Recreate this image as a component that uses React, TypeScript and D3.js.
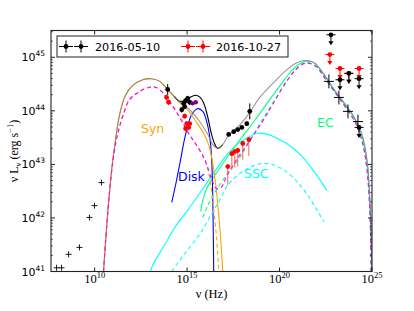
import React, { useEffect, useRef } from "react";
import * as d3 from "d3";

// every value is [log10(nu / Hz), log10(nu L_nu / erg s^-1)]

// model curves
const totalA = [
  [10.48, 41.0], [10.7, 42.06], [10.92, 42.9], [11.13, 43.46], [11.35, 43.93], [11.67, 44.29],
  [12.05, 44.47], [12.6, 44.58], [13.08, 44.6], [13.52, 44.55], [13.95, 44.4], [14.6, 44.17],
  [15.14, 44.02], [15.68, 43.8], [16.12, 43.56], [16.39, 43.37], [16.66, 43.3], [16.93, 43.37],
  [17.2, 43.52], [17.58, 43.65], [17.96, 43.78], [18.39, 43.97], [18.93, 44.25], [19.69, 44.53],
  [20.4, 44.77], [20.94, 44.9], [21.37, 44.94], [21.86, 44.9], [22.4, 44.68], [22.94, 44.4],
  [23.48, 44.16], [24.02, 43.89], [24.46, 43.56], [24.73, 43.09], [24.89, 42.34], [25.0, 41.0],
];
const totalADisk = [
  [14.3, 44.27], [14.6, 44.18], [14.87, 44.19], [15.14, 44.25], [15.46, 44.29], [15.68, 44.26],
  [15.9, 44.14], [16.12, 43.88], [16.33, 43.55], [16.52, 43.36], [16.66, 43.3], [16.93, 43.37],
];
const synA = [
  [10.48, 41.0], [10.7, 42.06], [10.92, 42.9], [11.13, 43.46], [11.35, 43.93], [11.67, 44.29],
  [12.05, 44.47], [12.6, 44.58], [13.08, 44.6], [13.52, 44.55], [13.95, 44.4], [14.6, 44.15],
  [15.14, 43.97], [15.52, 43.78], [15.85, 43.61], [16.12, 43.41], [16.33, 43.13], [16.55, 42.62],
  [16.71, 42.06], [16.82, 41.6], [16.93, 41.0],
];
const totalB = [
  [10.48, 41.0], [10.7, 42.06], [10.92, 42.87], [11.08, 43.28], [11.24, 43.56], [11.51, 43.89],
  [11.89, 44.21], [12.43, 44.36], [12.97, 44.44], [13.3, 44.44], [13.68, 44.34], [14.06, 44.17],
  [14.6, 43.88], [15.03, 43.61], [15.41, 43.41], [15.79, 43.2], [16.06, 43.0], [16.33, 42.72],
  [16.6, 42.55], [16.85, 42.57], [17.1, 42.75], [17.6, 43.05], [18.1, 43.3], [18.6, 43.55],
  [19.2, 43.87], [19.75, 44.19], [20.4, 44.56], [20.94, 44.79], [21.42, 44.89], [21.97, 44.83],
  [22.51, 44.58], [23.05, 44.32], [23.59, 44.06], [24.13, 43.76], [24.51, 43.37], [24.73, 42.9],
  [24.89, 42.06], [24.95, 41.0],
];
const synB = [
  [10.48, 41.0], [10.7, 42.06], [10.92, 42.87], [11.08, 43.28], [11.24, 43.56], [11.51, 43.89],
  [11.89, 44.21], [12.43, 44.36], [12.97, 44.44], [13.3, 44.44], [13.68, 44.34], [14.06, 44.17],
  [14.6, 43.88], [15.03, 43.61], [15.41, 43.41], [15.79, 43.2], [16.06, 42.98], [16.28, 42.62],
  [16.44, 42.15], [16.6, 41.6], [16.71, 41.0],
];
const disk = [
  [14.17, 42.29], [14.38, 42.62], [14.6, 43.0], [14.92, 43.56], [15.25, 43.93], [15.57, 44.04],
  [15.85, 43.99], [16.06, 43.8], [16.23, 43.5], [16.33, 43.09], [16.39, 42.34], [16.44, 41.0],
];
const sscA = [
  [13.0, 40.97], [13.08, 41.07], [13.79, 41.5], [14.33, 41.82], [15.03, 42.14], [15.68, 42.46],
  [16.39, 42.81], [17.04, 43.13], [17.69, 43.37], [18.28, 43.5], [18.82, 43.58], [19.37, 43.56],
  [20.02, 43.46], [20.67, 43.32], [21.26, 43.13], [21.86, 42.87], [22.29, 42.66], [22.56, 42.51],
];
const sscB = [
  [14.17, 41.0], [14.71, 41.26], [15.25, 41.5], [15.79, 41.75], [16.33, 42.08], [16.77, 42.34],
  [17.2, 42.61], [17.85, 42.83], [18.5, 42.96], [19.15, 43.02], [19.75, 42.98], [20.34, 42.87],
  [20.94, 42.68], [21.53, 42.42], [22.07, 42.12], [22.4, 41.93],
];
const ecA = [
  [15.74, 42.12], [15.85, 42.33], [16.06, 42.55], [16.39, 42.74], [16.87, 42.98], [17.58, 43.33],
  [18.66, 43.82], [19.75, 44.34], [20.83, 44.81], [21.37, 44.92], [21.86, 44.9], [22.4, 44.68],
  [22.94, 44.4], [23.48, 44.14], [24.02, 43.88], [24.46, 43.52], [24.73, 43.04], [24.89, 42.25],
  [25.0, 41.0],
];
const ecB = [
  [15.85, 42.01], [16.06, 42.19], [16.44, 42.44], [17.04, 42.76], [17.85, 43.13], [18.82, 43.69],
  [19.75, 44.21], [20.56, 44.64], [21.1, 44.85], [21.42, 44.9], [21.97, 44.83], [22.51, 44.58],
  [23.05, 44.32], [23.59, 44.06], [24.13, 43.76], [24.51, 43.37], [24.73, 42.9], [24.89, 42.06],
  [24.95, 41.0],
];

// data: [log nu, log L, x error (dex), y error down, y error up]
const radio = [
  [7.94, 41.07], [8.21, 41.07], [8.59, 41.32], [9.18, 41.45], [9.72, 42.01], [9.99, 42.23], [10.37, 42.66],
];
const obsA = [
  [13.95, 44.4, 0.12, 0.1, 0.1],
  [14.71, 44.02, 0.08, 0.05, 0.05], [14.82, 44.14, 0.08, 0.05, 0.05], [14.87, 44.08, 0.08, 0.05, 0.05],
  [14.92, 44.19, 0.08, 0.05, 0.05], [15.03, 44.23, 0.08, 0.05, 0.05], [15.14, 44.16, 0.08, 0.05, 0.05],
  [17.25, 43.56, 0.08, 0.03, 0.03], [17.52, 43.61, 0.08, 0.03, 0.03], [17.74, 43.65, 0.08, 0.03, 0.03],
  [17.96, 43.69, 0.08, 0.03, 0.03], [18.23, 43.76, 0.08, 0.04, 0.04], [18.39, 43.99, 0.04, 0.15, 0.15],
];
const uvArchive = [
  [15.3, 44.14], [15.47, 44.16],
];
const fermiA = [
  [22.67, 44.55, 0.27, 0.13, 0.13], [23.21, 44.25, 0.27, 0.13, 0.13],
  [23.7, 43.99, 0.27, 0.13, 0.13], [24.24, 43.8, 0.27, 0.13, 0.13],
];
const limitsA = [
  [22.78, 45.42], [23.27, 44.58], [23.75, 44.7], [24.3, 44.6], [24.3, 43.69],
];
const obsB = [
  [13.89, 44.25, 0.05, 0.06, 0.06], [14.0, 44.16, 0.05, 0.06, 0.06],
  [14.87, 43.9, 0.05, 0.05, 0.05], [14.98, 43.76, 0.05, 0.05, 0.05], [15.09, 43.69, 0.05, 0.05, 0.05],
  [14.92, 43.67, 0.05, 0.05, 0.05], [15.14, 43.76, 0.05, 0.05, 0.05],
  [17.2, 42.96, 0.06, 0.35, 0.05], [17.42, 43.2, 0.06, 0.3, 0.05], [17.58, 43.24, 0.06, 0.3, 0.05],
  [17.74, 43.26, 0.06, 0.3, 0.05], [18.01, 43.39, 0.06, 0.3, 0.05], [18.34, 43.46, 0.06, 0.3, 0.05],
];
const limitsB = [
  [22.72, 45.05], [23.27, 44.79], [23.75, 44.7], [24.3, 44.79],
];

const xTicks = [10, 15, 20, 25];
const yTicks = [41, 42, 43, 44, 45];
const legendLabels = ["2016-05-10", "2016-10-27"];

export default function App() {
  const ref = useRef<SVGSVGElement>(null);

  useEffect(() => {
    document.body.style.margin = "0";
    const svg = d3.select(ref.current);
    svg.selectAll("*").remove();

    const left = 51, right = 372, top = 30.5, bottom = 271.5;
    const x = d3.scaleLog().domain([10 ** 7.64, 1e25]).range([left, right]);
    const y = d3.scaleLog().domain([1e41, 10 ** 45.5]).range([bottom, top]);
    const px = (v: number) => x(10 ** v);
    const py = (v: number) => y(10 ** v);

    svg.append("defs").append("clipPath").attr("id", "plotclip")
      .append("rect").attr("x", left).attr("y", top).attr("width", right - left).attr("height", bottom - top);

    const plot = svg.append("g").attr("clip-path", "url(#plotclip)");
    const line = d3.line<number[]>()
      .x((d) => px(d[0]))
      .y((d) => py(d[1]))
      .curve(d3.curveCatmullRom.alpha(0.5));

    const curve = (data: number[][], color: string, dash?: string, opacity = 1) => {
      plot.append("path").attr("d", line(data)).attr("fill", "none")
        .attr("stroke", color).attr("stroke-width", 1.1).attr("opacity", opacity)
        .attr("stroke-dasharray", dash || null);
    };

    curve(sscA, "#00ffff");
    curve(ecA, "#00ff7f");
    curve(disk, "#0000ff");
    curve(synA, "#ffa500");
    curve(totalADisk, "#000000");
    curve(totalA, "#808080", undefined, 0.8);
    curve(sscB, "#00ffff", "4,3");
    curve(ecB, "#00ff7f", "4,3");
    curve(synB, "#ffa500", "4,3");
    curve(totalB, "#ff00ff", "4,3");

    // component labels
    const label = (t: string, lx: number, ly: number, c: string) =>
      svg.append("text").attr("x", lx).attr("y", ly).attr("fill", c)
        .attr("font-family", "DejaVu Sans").attr("font-size", 12.5).text(t);
    label("Syn", 141, 133, "#ffa500");
    label("Disk", 178, 181, "#0000ff");
    label("SSC", 244, 178, "#00ffff");
    label("EC", 317, 127, "#00ff7f");

    // data points
    const pts = plot.append("g");
    radio.forEach((d) => {
      const cx = px(d[0]), cy = py(d[1]);
      pts.append("path").attr("d", `M${cx - 3},${cy}H${cx + 3}M${cx},${cy - 3}V${cy + 3}`)
        .attr("stroke", "#000").attr("stroke-width", 0.9);
    });

    const errPoint = (d: number[], color: string, errColor: string, marker: boolean) => {
      const cx = px(d[0]), cy = py(d[1]);
      pts.append("path")
        .attr("d", `M${px(d[0] - d[2])},${cy}H${px(d[0] + d[2])}M${cx},${py(d[1] - d[3])}V${py(d[1] + d[4])}`)
        .attr("stroke", errColor).attr("stroke-width", 1);
      if (marker) pts.append("circle").attr("cx", cx).attr("cy", cy).attr("r", 2.4).attr("fill", color);
    };

    const limit = (d: number[], color: string) => {
      const cx = px(d[0]), cy = py(d[1]);
      pts.append("path").attr("d", `M${cx - 4.5},${cy}H${cx + 4.5}M${cx},${cy}V${cy + 8}`)
        .attr("stroke", color).attr("stroke-width", 1);
      pts.append("path").attr("d", `M${cx - 2.6},${cy + 6.5}L${cx + 2.6},${cy + 6.5}L${cx},${cy + 10.5}Z`)
        .attr("fill", color);
      pts.append("circle").attr("cx", cx).attr("cy", cy).attr("r", 2.4).attr("fill", color);
    };

    obsB.forEach((d) => errPoint(d, "#ff0000", "#ff5a5a", true));
    limitsB.forEach((d) => limit(d, "#ff0000"));
    obsA.forEach((d) => errPoint(d, "#000", "#000", true));
    uvArchive.forEach((d) =>
      pts.append("circle").attr("cx", px(d[0])).attr("cy", py(d[1])).attr("r", 2.2).attr("fill", "#800080"));
    fermiA.forEach((d) => errPoint(d, "#000", "#000", false));
    limitsA.forEach((d) => limit(d, "#000"));

    // frame and ticks
    const axes = svg.append("g").attr("stroke", "#222").attr("stroke-width", 1);
    yTicks.forEach((n) => {
      const ty = py(n);
      axes.append("path").attr("d", `M${left},${ty}h4M${right},${ty}h-4`);
      if (n < 45.5) {
        for (let k = 2; k <= 9; k++) {
          const v = n + Math.log10(k);
          if (v > 45.5) break;
          const my = py(v);
          axes.append("path").attr("d", `M${left},${my}h2M${right},${my}h-2`).attr("stroke-width", 0.7);
        }
      }
    });
    xTicks.forEach((n) => {
      const tx = px(n);
      axes.append("path").attr("d", `M${tx},${bottom}v-4M${tx},${top}v4`);
    });
    svg.append("rect").attr("x", left).attr("y", top).attr("width", right - left).attr("height", bottom - top)
      .attr("fill", "none").attr("stroke", "#222").attr("stroke-width", 1.1);

    // tick labels
    yTicks.forEach((n) => {
      const t = svg.append("text").attr("x", left - 6).attr("y", py(n) + 4)
        .attr("text-anchor", "end").attr("font-family", "DejaVu Sans").attr("font-size", 11).attr("fill", "#000");
      t.append("tspan").text("10");
      t.append("tspan").attr("dy", -5).attr("font-size", 7.5).text(String(n));
    });
    xTicks.forEach((n) => {
      const t = svg.append("text").attr("x", px(n)).attr("y", 283)
        .attr("text-anchor", "middle").attr("font-family", "Liberation Serif").attr("font-size", 12.5).attr("fill", "#000");
      t.append("tspan").text("10");
      t.append("tspan").attr("dy", -5).attr("font-size", 8.5).text(String(n));
    });

    // axis labels
    svg.append("text").attr("x", (left + right) / 2).attr("y", 298).attr("text-anchor", "middle")
      .attr("font-family", "Liberation Serif").attr("font-size", 12.5).text("ν (Hz)");
    const yl = svg.append("text").attr("transform", `translate(18,${(top + bottom) / 2}) rotate(-90)`)
      .attr("text-anchor", "middle").attr("font-family", "Liberation Serif").attr("font-size", 12);
    yl.append("tspan").text("ν L");
    yl.append("tspan").attr("dy", 3).attr("font-size", 8.5).text("ν");
    yl.append("tspan").attr("dy", -3).text(" (erg s");
    yl.append("tspan").attr("dy", -5).attr("font-size", 8.5).text("−1");
    yl.append("tspan").attr("dy", 5).text(")");

    // legend
    const lg = svg.append("g");
    lg.append("rect").attr("x", 57).attr("y", 36).attr("width", 231).attr("height", 21)
      .attr("fill", "#fff").attr("stroke", "#222").attr("stroke-width", 1);
    const handles = [
      { xs: [66, 81], color: "#000", tx: 95 },
      { xs: [188, 203], color: "#ff0000", tx: 216 },
    ];
    handles.forEach((h, i) => {
      h.xs.forEach((hx) => {
        lg.append("path").attr("d", `M${hx - 7},46.5H${hx + 7}M${hx},40.5V52.5`)
          .attr("stroke", h.color).attr("stroke-width", 1);
        lg.append("circle").attr("cx", hx).attr("cy", 46.5).attr("r", 2.4).attr("fill", h.color);
      });
      lg.append("text").attr("x", h.tx).attr("y", 51).attr("font-family", "DejaVu Sans")
        .attr("font-size", 11.2).attr("fill", "#000").text(legendLabels[i]);
    });
  }, []);

  return <svg ref={ref} width={414} height={311} style={{ display: "block", background: "#fff" }} />;
}
